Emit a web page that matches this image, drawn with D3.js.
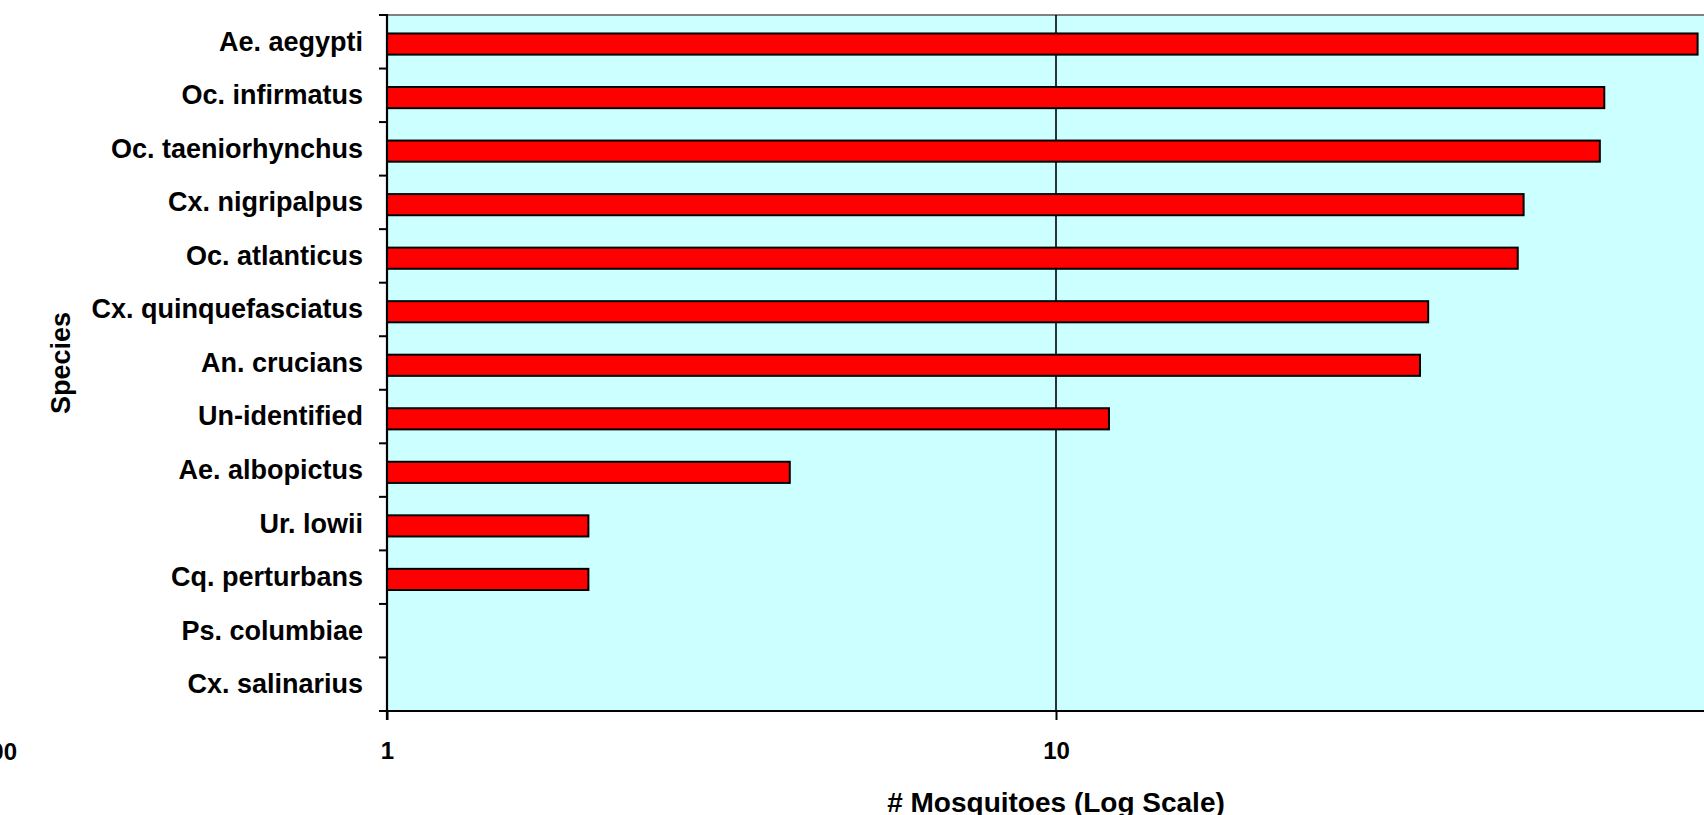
<!DOCTYPE html>
<html>
<head>
<meta charset="utf-8">
<script src="https://cdn.jsdelivr.net/npm/d3@7"></script>
<style>
  html, body { margin: 0; padding: 0; background: #fff; }
  svg { display: block; }
  text { font-family: "Liberation Sans", Arial, sans-serif; font-weight: bold; fill: #000; }
</style>
</head>
<body>
<svg id="chart" width="1704" height="815"></svg>
<script>
const categories = ["Ae. aegypti", "Oc. infirmatus", "Oc. taeniorhynchus", "Cx. nigripalpus",
  "Oc. atlanticus", "Cx. quinquefasciatus", "An. crucians", "Un-identified",
  "Ae. albopictus", "Ur. lowii", "Cq. perturbans", "Ps. columbiae", "Cx. salinarius"];
const values = [91, 66, 65, 50, 49, 36, 35, 12, 4, 2, 2, 1, 1];
const xTickValues = [1, 10, 100];
const xTitle = "# Mosquitoes (Log Scale)";
const yTitle = "Species";
const strayLabel = "100";

const W = 1704, H = 815;
const plot = { left: 387, right: 1725, top: 15, bottom: 711 };

const svg = d3.select("#chart");

const x = d3.scaleLog().domain([1, 100]).range([plot.left, plot.right]);
const y = d3.scaleBand().domain(categories).range([plot.top, plot.bottom]).padding(0);
const bw = y.bandwidth();

// plot background
svg.append("rect")
  .attr("x", plot.left).attr("y", plot.top)
  .attr("width", plot.right - plot.left).attr("height", plot.bottom - plot.top)
  .attr("fill", "#CCFFFF");

// top border
svg.append("line")
  .attr("x1", plot.left).attr("x2", W)
  .attr("y1", plot.top).attr("y2", plot.top)
  .attr("stroke", "#808080").attr("stroke-width", 2);

// vertical gridlines at major ticks (excluding the axis itself)
svg.append("g").selectAll("line")
  .data(xTickValues.filter(d => d > 1))
  .join("line")
  .attr("x1", d => x(d)).attr("x2", d => x(d))
  .attr("y1", plot.top).attr("y2", plot.bottom)
  .attr("stroke", "#000").attr("stroke-width", 1.6);

// bars
const data = categories.map((c, i) => ({ c, v: values[i] }));
svg.append("g").selectAll("rect")
  .data(data.filter(d => d.v > 1))
  .join("rect")
  .attr("x", x(1))
  .attr("y", d => y(d.c) + bw * 0.345)
  .attr("width", d => x(d.v) - x(1))
  .attr("height", bw * 0.395)
  .attr("fill", "#FF0000")
  .attr("stroke", "#000")
  .attr("stroke-width", 2);

// bottom axis
const xAxis = d3.axisBottom(x)
  .tickValues(xTickValues)
  .tickFormat(d3.format("d"))
  .tickSize(9)
  .tickPadding(22)
  .tickSizeOuter(0);
const gx = svg.append("g").attr("transform", `translate(0,${plot.bottom})`).call(xAxis);
gx.select(".domain").attr("stroke", "#000").attr("stroke-width", 2.2);
gx.selectAll(".tick line").attr("stroke", "#000").attr("stroke-width", 2);
gx.selectAll(".tick text").style("font-size", "24px")
  .attr("font-family", null).attr("fill", "#000");
gx.select(".domain").attr("d", `M${plot.left - 8},0H${W}`);

// left axis: boundary ticks
const boundaries = categories.map(c => y(c)).concat([plot.bottom]);
svg.append("g").selectAll("line")
  .data(boundaries)
  .join("line")
  .attr("x1", plot.left - 8).attr("x2", plot.left)
  .attr("y1", d => d).attr("y2", d => d)
  .attr("stroke", "#000").attr("stroke-width", 2);

svg.append("line")
  .attr("x1", plot.left).attr("x2", plot.left)
  .attr("y1", plot.top - 1).attr("y2", plot.bottom + 9)
  .attr("stroke", "#000").attr("stroke-width", 2.2);

// category labels
const yAxis = d3.axisLeft(y).tickSize(0).tickPadding(24);
const gy = svg.append("g").attr("transform", `translate(${plot.left},0)`).call(yAxis);
gy.select(".domain").remove();
gy.selectAll(".tick text").style("font-size", "27px")
  .attr("font-family", null).attr("fill", "#000").attr("dy", "0.33em");

// axis titles
svg.append("text")
  .attr("x", (plot.left + plot.right) / 2).attr("y", 812)
  .attr("text-anchor", "middle")
  .style("font-size", "28px")
  .text(xTitle);

svg.append("text")
  .attr("transform", `translate(70,${(plot.top + plot.bottom) / 2}) rotate(-90)`)
  .attr("text-anchor", "middle")
  .style("font-size", "27px")
  .text(yTitle);

// stray cut-off label at the far left
svg.append("text")
  .attr("x", 17).attr("y", 760)
  .attr("text-anchor", "end")
  .style("font-size", "24px")
  .text(strayLabel);
</script>
</body>
</html>
